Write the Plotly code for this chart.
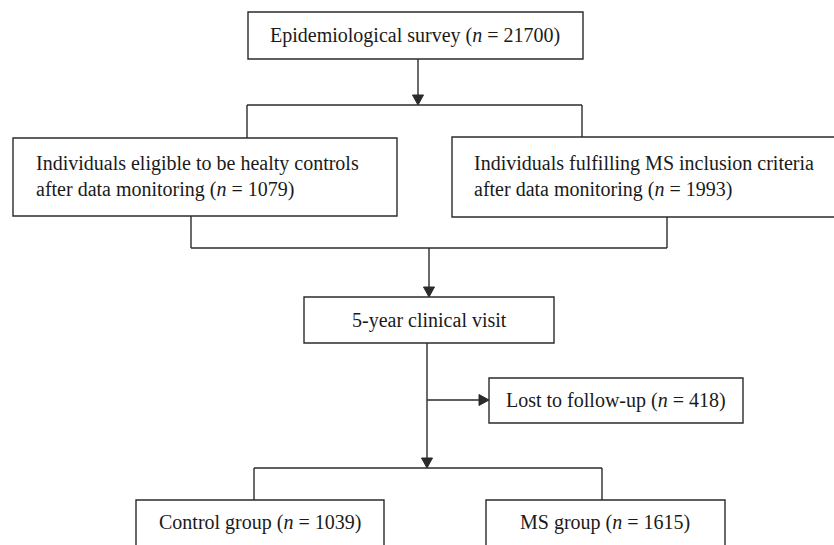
import plotly.graph_objects as go

# ---- content ----
box_labels = [
    "Epidemiological survey",
    "Individuals eligible to be healty controls<br>after data monitoring",
    "Individuals fulfilling MS inclusion criteria<br>after data monitoring",
    "5-year clinical visit",
    "Lost to follow-up",
    "Control group",
    "MS group",
]
box_counts = [21700, 1079, 1993, None, 418, 1039, 1615]

# ---- layout geometry (pixels, y downward) ----
W, H = 834, 545
boxes = [  # x0, y0, x1, y1
    (248, 12, 583, 59),
    (13, 138, 397, 216),
    (452, 137, 840, 217),
    (304, 297, 554, 343),
    (489, 378, 743, 423),
    (136, 500, 384, 560),
    (486, 500, 725, 560),
]
text_pos = [  # x, y, anchor
    (415, 35, "center"),
    (34, 176, "left"),
    (472, 176, "left"),
    (429, 320, "center"),
    (616, 400, "center"),
    (260, 522, "center"),
    (605, 522, "center"),
]
segments = [
    (418, 59, 418, 103),
    (247, 105, 582, 105),
    (247, 105, 247, 138),
    (582, 105, 582, 137),
    (191, 216, 191, 248),
    (667, 217, 667, 248),
    (191, 248, 667, 248),
    (429, 248, 429, 296),
    (427, 343, 427, 467),
    (427, 400, 488, 400),
    (254, 468, 602, 468),
    (254, 468, 254, 500),
    (602, 468, 602, 500),
]
arrow_tips = [  # x, y, direction
    (418, 105, "down"),
    (429, 297, "down"),
    (489, 400, "right"),
    (427, 468, "down"),
]

LC = "#2b2b2b"
LW = 1.4
FONT = "Liberation Serif"

shapes = []
for x0, y0, x1, y1 in boxes:
    shapes.append(dict(type="rect", xref="x", yref="y", x0=x0, y0=y0, x1=x1, y1=y1,
                       line=dict(color=LC, width=LW), fillcolor="white", layer="below"))
for x0, y0, x1, y1 in segments:
    shapes.append(dict(type="line", xref="x", yref="y", x0=x0, y0=y0, x1=x1, y1=y1,
                       line=dict(color=LC, width=LW)))
hw, hl = 5.5, 10
for x, y, d in arrow_tips:
    if d == "down":
        path = f"M {x} {y} L {x-hw} {y-hl} L {x+hw} {y-hl} Z"
    else:
        path = f"M {x} {y} L {x-hl} {y-hw} L {x-hl} {y+hw} Z"
    shapes.append(dict(type="path", xref="x", yref="y", path=path,
                       line=dict(color=LC, width=1), fillcolor=LC))

annotations = []
for lab, n, (x, y, anc) in zip(box_labels, box_counts, text_pos):
    txt = lab if n is None else f"{lab} (<i>n</i> = {n})"
    annotations.append(dict(x=x, y=y, xref="x", yref="y", text=txt, showarrow=False,
                            xanchor=anc, yanchor="middle", align=anc,
                            font=dict(family=FONT, size=20, color="#1a1a1a")))

fig = go.Figure()
fig.update_layout(
    width=W, height=H, margin=dict(l=0, r=0, t=0, b=0),
    paper_bgcolor="white", plot_bgcolor="white",
    xaxis=dict(range=[0, W], visible=False, fixedrange=True),
    yaxis=dict(range=[H, 0], visible=False, fixedrange=True),
    shapes=shapes, annotations=annotations, showlegend=False,
)
fig.write_html("out.html", config={"displayModeBar": False},
               post_script="document.body.style.margin='0px';document.body.style.overflow='hidden';")
